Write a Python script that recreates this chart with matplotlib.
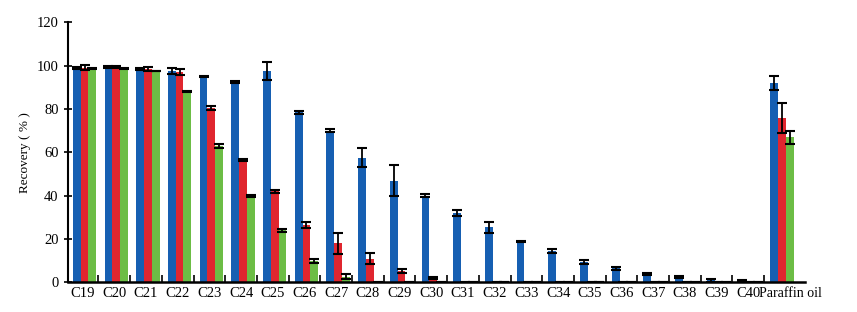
import numpy as np
import matplotlib
matplotlib.use("Agg")
import matplotlib.pyplot as plt
import matplotlib.transforms as mtransforms

# ==== DATA ==================================================

categories = ["C19", "C20", "C21", "C22", "C23", "C24", "C25", "C26", "C27",
              "C28", "C29", "C30", "C31", "C32", "C33", "C34", "C35", "C36",
              "C37", "C38", "C39", "C40", "Paraffin oil"]

blue = [99, 99.5, 98.5, 97.5, 95, 92.5, 97.5, 78.5, 70, 57.5, 47, 40, 32,
        25.5, 19, 14.5, 9.5, 6.5, 4, 2.5, 1, 0.5, 92]
blue_err = [0.5, 0.4, 0.5, 1.2, 0.3, 0.4, 4, 0.7, 0.7, 4.3, 7, 0.7, 1.5,
            2.6, 0.3, 0.8, 1, 0.8, 0.4, 0.3, 0.8, 0.5, 3.2]

red = [99, 99.5, 98.5, 97, 80.5, 56.5, 42, 26.5, 18, 11, 5.3, 2, 0.3,
       0, 0, 0, 0, 0, 0, 0, 0, 0, 76]
red_err = [1.2, 0.5, 0.8, 1.5, 0.8, 0.6, 0.7, 1.2, 5, 2.5, 1, 0.6, 0.1,
           0, 0, 0, 0, 0, 0, 0, 0, 0, 7]

green = [98.5, 98.5, 97.5, 88, 63, 40, 24, 9.8, 2.7, 0.3, 0, 0, 0,
         0, 0, 0, 0, 0, 0, 0, 0, 0, 67]
green_err = [0.2, 0.2, 0.2, 0.2, 1, 0.5, 0.8, 0.8, 1.3, 0.1, 0, 0, 0,
             0, 0, 0, 0, 0, 0, 0, 0, 0, 3]

# ============================================================

plt.rcParams["font.family"] = ["Liberation Serif", "DejaVu Serif"]

fig = plt.figure(figsize=(8.57, 3.12), dpi=100)
ax = fig.add_axes([0.079, 0.0946, 0.860, 0.834])

x = np.arange(len(categories))
w = 0.245
errkw = dict(ecolor="black", capsize=3.5, elinewidth=1.3, capthick=1.5)

for off, vals, errs, col in [(-w, blue, blue_err, "#165fb2"),
                             (0, red, red_err, "#e0262f"),
                             (w, green, green_err, "#6cbd45")]:
    ax.bar(x + off + 0.06, vals, w, color=col, yerr=errs,
           error_kw=errkw, zorder=2)

ax.set_xlim(-0.47, 22.78)
ax.set_ylim(0, 120)
ax.set_yticks(np.arange(0, 121, 20))
ax.set_xticks(x)
ax.set_xticklabels(categories, fontsize=10.5)
ax.set_xticks(x[:-1] + 0.5, minor=True)
ax.tick_params(axis="x", which="major", length=0, pad=3)
ax.tick_params(axis="x", which="minor", direction="in", length=5, width=1.2)
ax.tick_params(axis="y", direction="inout", length=6, width=1.2, labelsize=10.5)

# the long last label sits a bit to the right, squeezed
last = ax.get_xticklabels()[-1]
last.set_fontsize(10)
last.set_transform(last.get_transform() +
                   mtransforms.ScaledTranslation(10 / 100, 0, fig.dpi_scale_trans))

for s in ["top", "right"]:
    ax.spines[s].set_visible(False)
ax.spines["left"].set_linewidth(1.5)
ax.spines["bottom"].set_linewidth(1.8)

ax.set_ylabel("Recovery ( % )", fontsize=9.5, labelpad=4)

fig.savefig("out.png", dpi=100)
